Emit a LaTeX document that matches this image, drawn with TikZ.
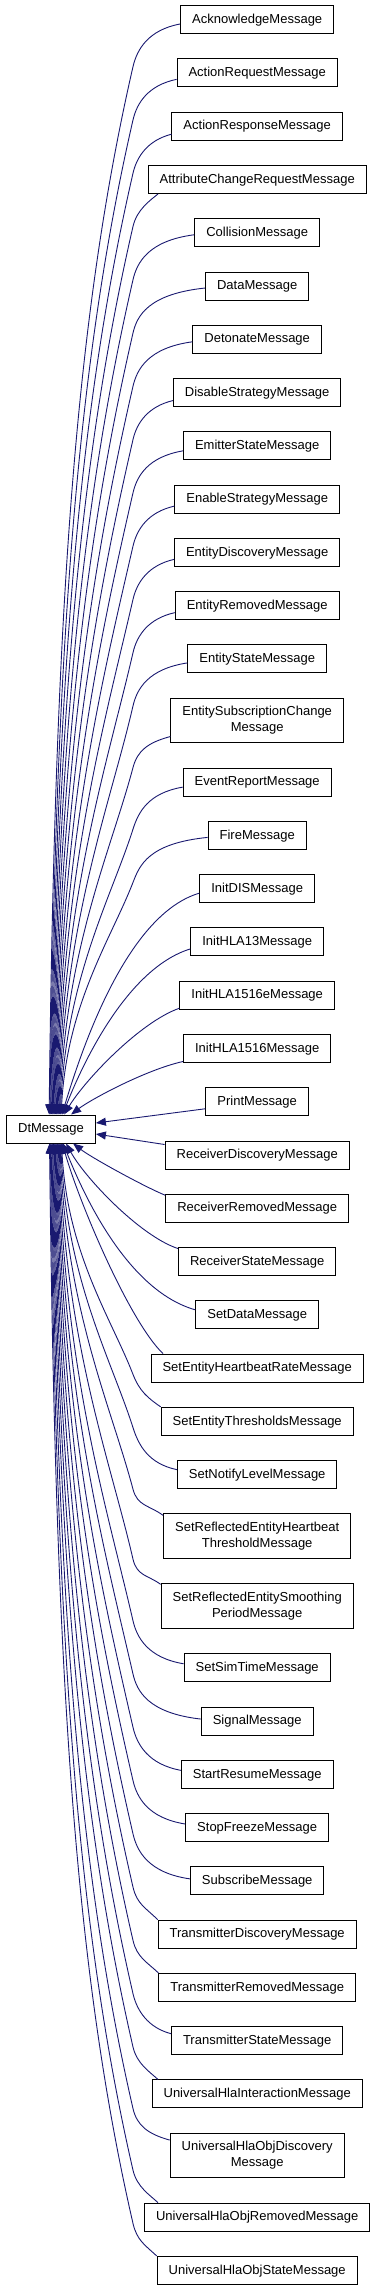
\documentclass[tikz,border=0pt]{standalone}
\usepackage{fontspec}
\setmainfont{Liberation Sans}
\usetikzlibrary{arrows.meta,calc}
\definecolor{edgecol}{RGB}{25,25,112}
\tikzset{
  cls/.style={draw=black, line width=1pt, fill=white, inner xsep=11.5pt, inner ysep=0pt, font=\fontsize{13}{16}\selectfont},
  one/.style={cls, minimum height=28pt, text height=10pt, text depth=2.6pt},
  two/.style={cls, align=center, minimum height=44.67pt},
  inh/.style={draw=edgecol, line width=0.9pt, arrows={Triangle[length=10pt,width=8pt]-}},
}
% top edge: name, yc, xe, end coordinate, second control x, y
\newcommand{\tedge}[6]{%
  \pgfmathsetmacro{\eBy}{#2+47}%
  \pgfmathsetmacro{\eDD}{1115-\eBy}%
  \pgfmathsetmacro{\eS}{max(0.23,1.25*(133-#3)/\eDD)}%
  \pgfmathsetmacro{\eQa}{1115-0.48*\eDD}%
  \pgfmathsetmacro{\eQx}{#3+6}%
  \pgfmathsetmacro{\eQbx}{133-\eS*0.24*\eDD}%
  \pgfmathsetmacro{\eQby}{\eBy+0.24*\eDD}%
  \pgfmathsetmacro{\eCx}{133+\eS*17}%
  \pgfmathsetmacro{\eCa}{\eBy-17}%
  \pgfmathsetmacro{\eXs}{#3-6}%
  \draw[inh] ([xshift=\eXs pt]dt.north west) .. controls (\eQx,\eQa) and (\eQbx,\eQby) .. (133,\eBy)
     .. controls (\eCx,\eCa) and (#5,#6) .. #4;
}
\newcommand{\tw}[4]{\pgfmathsetmacro{\ePy}{#2+#4+6}\tedge{#1}{#2}{#3}{([yshift=-#4pt]#1.west)}{148}{\ePy}}
% bottom edge
\newcommand{\bedge}[6]{%
  \pgfmathsetmacro{\eBy}{#2-47}%
  \pgfmathsetmacro{\eDD}{\eBy-1143}%
  \pgfmathsetmacro{\eS}{max(0.23,1.25*(133-#3)/\eDD)}%
  \pgfmathsetmacro{\eQa}{1143+0.48*\eDD}%
  \pgfmathsetmacro{\eQx}{#3+6}%
  \pgfmathsetmacro{\eQbx}{133-\eS*0.24*\eDD}%
  \pgfmathsetmacro{\eQby}{\eBy-0.24*\eDD}%
  \pgfmathsetmacro{\eCx}{133+\eS*17}%
  \pgfmathsetmacro{\eCa}{\eBy+17}%
  \pgfmathsetmacro{\eXs}{#3-6}%
  \draw[inh] ([xshift=\eXs pt]dt.south west) .. controls (\eQx,\eQa) and (\eQbx,\eQby) .. (133,\eBy)
     .. controls (\eCx,\eCa) and (#5,#6) .. #4;
}
\newcommand{\bw}[4]{\pgfmathsetmacro{\ePy}{#2-#4-6}\bedge{#1}{#2}{#3}{([yshift=#4pt]#1.west)}{148}{\ePy}}
\begin{document}
\begin{tikzpicture}[x=1pt,y=-1pt]
\useasboundingbox (0,0) rectangle (376,2291);
\coordinate (c158) at (158,0);
\coordinate (c163) at (163,0);
\node[one] (dt) at (51,1129) {DtMessage};
\node[one] (n1) at (257.2,19.67) {AcknowledgeMessage};
\node[one] (n2) at (257.2,72.94) {ActionRequestMessage};
\node[one] (n3) at (257.2,126.21) {ActionResponseMessage};
\node[one] (n4) at (257.2,179.48) {AttributeChangeRequestMessage};
\node[one] (n5) at (257.2,232.75) {CollisionMessage};
\node[one] (n6) at (257.2,286.02) {DataMessage};
\node[one] (n7) at (257.2,339.29) {DetonateMessage};
\node[one] (n8) at (257.2,392.56) {DisableStrategyMessage};
\node[one] (n9) at (257.2,445.83) {EmitterStateMessage};
\node[one] (n10) at (257.2,499.10) {EnableStrategyMessage};
\node[one] (n11) at (257.2,552.37) {EntityDiscoveryMessage};
\node[one] (n12) at (257.2,605.64) {EntityRemovedMessage};
\node[one] (n13) at (257.2,658.91) {EntityStateMessage};
\node[two] (n14) at (257.2,720.52) {EntitySubscriptionChange\\Message};
\node[one] (n15) at (257.2,782.12) {EventReportMessage};
\node[one] (n16) at (257.2,835.39) {FireMessage};
\node[one] (n17) at (257.2,888.66) {InitDISMessage};
\node[one] (n18) at (257.2,941.93) {InitHLA13Message};
\node[one] (n19) at (257.2,995.20) {InitHLA1516eMessage};
\node[one] (n20) at (257.2,1048.47) {InitHLA1516Message};
\node[one] (n21) at (257.2,1101.74) {PrintMessage};
\node[one] (n22) at (257.2,1155.01) {ReceiverDiscoveryMessage};
\node[one] (n23) at (257.2,1208.28) {ReceiverRemovedMessage};
\node[one] (n24) at (257.2,1261.55) {ReceiverStateMessage};
\node[one] (n25) at (257.2,1314.82) {SetDataMessage};
\node[one] (n26) at (257.2,1368.09) {SetEntityHeartbeatRateMessage};
\node[one] (n27) at (257.2,1421.36) {SetEntityThresholdsMessage};
\node[one] (n28) at (257.2,1474.63) {SetNotifyLevelMessage};
\node[two] (n29) at (257.2,1536.24) {SetReflectedEntityHeartbeat\\ThresholdMessage};
\node[two] (n30) at (257.2,1606.18) {SetReflectedEntitySmoothing\\PeriodMessage};
\node[one] (n31) at (257.2,1667.78) {SetSimTimeMessage};
\node[one] (n32) at (257.2,1721.05) {SignalMessage};
\node[one] (n33) at (257.2,1774.32) {StartResumeMessage};
\node[one] (n34) at (257.2,1827.59) {StopFreezeMessage};
\node[one] (n35) at (257.2,1880.86) {SubscribeMessage};
\node[one] (n36) at (257.2,1934.13) {TransmitterDiscoveryMessage};
\node[one] (n37) at (257.2,1987.40) {TransmitterRemovedMessage};
\node[one] (n38) at (257.2,2040.67) {TransmitterStateMessage};
\node[one] (n39) at (257.2,2093.94) {UniversalHlaInteractionMessage};
\node[two] (n40) at (257.2,2155.55) {UniversalHlaObjDiscovery\\Message};
\node[one] (n41) at (257.2,2217.15) {UniversalHlaObjRemovedMessage};
\node[one] (n42) at (257.2,2270.42) {UniversalHlaObjStateMessage};

% edges above
\tw{n1}{19.67}{49}{4.3}
\tw{n2}{72.94}{49.8}{6.4}
\tw{n3}{126.21}{50.6}{8}
\tedge{n4}{179.48}{51.4}{(n4.south west -| c158)}{150}{200.5}
\tw{n5}{232.75}{52.2}{2}
\tw{n6}{286.02}{53}{2}
\tw{n7}{339.29}{53.8}{2.5}
\tw{n8}{392.56}{54.6}{8}
\tw{n9}{445.83}{55.4}{5}
\tw{n10}{499.10}{56.2}{7}
\tw{n11}{552.37}{57}{7}
\tw{n12}{605.64}{57.8}{7}
\tw{n13}{658.91}{58.6}{4}
\tw{n14}{720.52}{59.4}{16}
\tw{n15}{782.12}{60.2}{5}
\tw{n16}{835.39}{61}{2}
\draw[inh] ([xshift=55.8pt]dt.north west) .. controls (80,1055) and (125,915) .. ([yshift=-4.5pt]n17.west);
\draw[inh] ([xshift=56.6pt]dt.north west) .. controls (80,1070) and (125,969) .. ([yshift=-7pt]n18.west);
\draw[inh] ([xshift=58pt]dt.north west) .. controls (85,1080) and (140,1022) .. ([yshift=-13pt]n19.west);
\draw[inh] ([xshift=65pt]dt.north west) .. controls (90,1100) and (145,1070) .. ([yshift=-13pt]n20.west);
% edges to the right
\draw[inh] ([yshift=6pt]dt.east) -- ([yshift=-7pt]n21.west);
\draw[inh] ([yshift=-5pt]dt.east) -- ([yshift=10.5pt]n22.west);
% edges below
\draw[inh] ([xshift=67pt]dt.south west) .. controls (92,1158) and (145,1187) .. ([yshift=13pt]n23.west);
\draw[inh] ([xshift=60pt]dt.south west) .. controls (85,1178) and (140,1236) .. ([yshift=13pt]n24.west);
\draw[inh] ([xshift=57pt]dt.south west) .. controls (81,1188) and (125,1290) .. ([yshift=5pt]n25.west);
\draw[inh] ([xshift=56.2pt]dt.south west) .. controls (80,1205) and (130,1322) .. (n26.north west -| c163);
\bedge{n27}{1421.36}{61.4}{(n27.north west)}{148}{1398}
\bw{n28}{1474.63}{60.6}{5}
\bedge{n29}{1536.24}{59.8}{([yshift=-2pt]n29.north west)}{149}{1505}
\bedge{n30}{1606.18}{59}{([yshift=-1pt]n30.north west)}{148}{1575}
\bw{n31}{1667.78}{58.2}{4}
\bw{n32}{1721.05}{57.4}{2}
\bw{n33}{1774.32}{56.6}{4}
\bw{n34}{1827.59}{55.8}{3.6}
\bw{n35}{1880.86}{55}{2}
\bedge{n36}{1934.13}{54.2}{(n36.north west)}{146}{1908}
\bedge{n37}{1987.40}{53.4}{(n37.north west)}{147}{1962}
\bw{n38}{2040.67}{52.6}{7}
\bedge{n39}{2093.94}{51.8}{(n39.north west -| c158)}{150}{2072}
\bw{n40}{2155.55}{51}{15.5}
\bedge{n41}{2217.15}{50.2}{(n41.north west -| c158)}{150}{2195}
\bedge{n42}{2270.42}{49.4}{(n42.north west)}{145}{2245}
\end{tikzpicture}
\end{document}
